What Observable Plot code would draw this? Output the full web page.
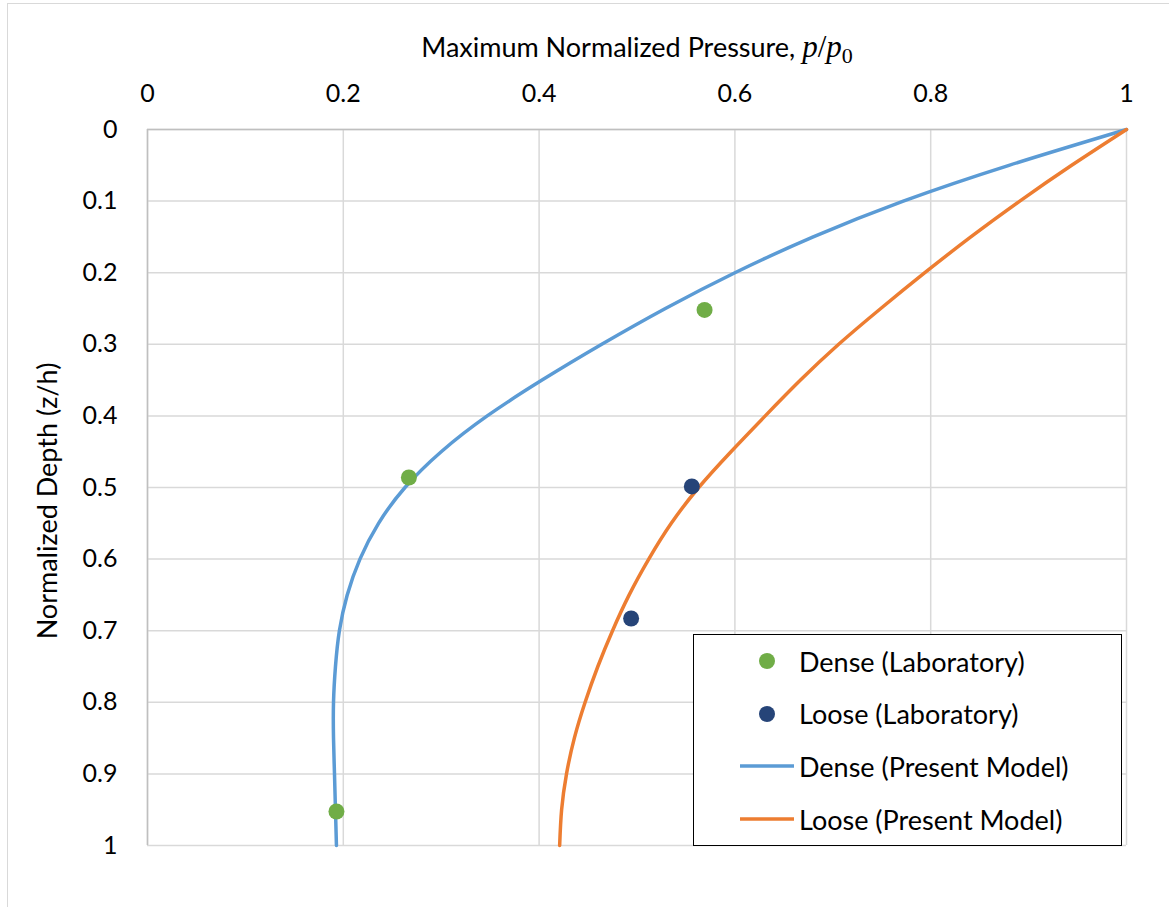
<!DOCTYPE html>
<html>
<head>
<meta charset="utf-8">
<script src="https://cdn.jsdelivr.net/npm/d3@7"></script>
<script src="https://cdn.jsdelivr.net/npm/@observablehq/plot@0.6"></script>
<style>
  html, body { margin: 0; padding: 0; background: #fff; }
  #wrap { position: relative; width: 1169px; height: 907px; overflow: hidden; font-family: Lato, "Open Sans", sans-serif; }
  #frame { position: absolute; left: 7px; top: 3px; width: 1300px; height: 1000px; border-left: 1px solid #d9d9d9; border-top: 1px solid #d9d9d9; }
  #legend { position: absolute; left: 693px; top: 634px; width: 429px; height: 212px; box-sizing: border-box; border: 1.5px solid #000; background: #fff; }
  .row { position: absolute; left: 46px; height: 40px; display: flex; align-items: center; font-size: 27px; color: #000; white-space: nowrap; }
  .row svg { flex: none; }
  .row span { margin-left: 5px; }
</style>
</head>
<body>
<div id="wrap">
  <div id="frame"></div>
  <div id="chart"></div>
  <div id="legend"></div>
</div>
<script>
// ---- data ----
const depth       = [0, 0.05, 0.1, 0.15, 0.2, 0.25, 0.3, 0.35, 0.4, 0.45, 0.5, 0.55, 0.6, 0.65, 0.7, 0.75, 0.8, 0.85, 0.9, 0.95, 1.0];
const denseModel  = [1.000, 0.880, 0.772, 0.680, 0.600, 0.529, 0.464, 0.403, 0.347, 0.300, 0.263, 0.236, 0.217, 0.204, 0.196, 0.192, 0.190, 0.190, 0.191, 0.192, 0.193];
const looseModel  = [1.000, 0.944, 0.891, 0.841, 0.794, 0.749, 0.706, 0.667, 0.631, 0.596, 0.563, 0.535, 0.512, 0.492, 0.475, 0.460, 0.447, 0.436, 0.428, 0.423, 0.421];
const denseLabP   = [0.569, 0.267, 0.193];
const denseLabZ   = [0.252, 0.486, 0.9525];
const looseLabP   = [0.556, 0.494];
const looseLabZ   = [0.4985, 0.683];
const xTicks      = [0, 0.2, 0.4, 0.6, 0.8, 1];
const xTickLabels = ["0", "0.2", "0.4", "0.6", "0.8", "1"];
const yTicks      = [0, 0.1, 0.2, 0.3, 0.4, 0.5, 0.6, 0.7, 0.8, 0.9, 1];
const yTickLabels = ["0", "0.1", "0.2", "0.3", "0.4", "0.5", "0.6", "0.7", "0.8", "0.9", "1"];
const seriesNames = ["Dense (Laboratory)", "Loose (Laboratory)", "Dense (Present Model)", "Loose (Present Model)"];
const colors      = { dense: "#5B9BD5", loose: "#ED7D31", denseLab: "#70AD47", looseLab: "#264478" };

// ---- tables ----
const denseLine = depth.map((z, i) => ({ z, p: denseModel[i] }));
const looseLine = depth.map((z, i) => ({ z, p: looseModel[i] }));
const denseDots = denseLabP.map((p, i) => ({ p, z: denseLabZ[i] }));
const looseDots = looseLabP.map((p, i) => ({ p, z: looseLabZ[i] }));

const chart = Plot.plot({
  width: 1169,
  height: 907,
  marginLeft: 147,
  marginRight: 43,
  marginTop: 129,
  marginBottom: 62,
  style: { fontFamily: "Lato, 'Open Sans', sans-serif", fontSize: "25px", color: "#000", background: "transparent", overflow: "visible" },
  x: { domain: [0, 1] },
  y: { domain: [0, 1], reverse: true },
  marks: [
    Plot.gridX(xTicks, { stroke: "#d9d9d9", strokeOpacity: 1, strokeWidth: 1.5 }),
    Plot.gridY(yTicks, { stroke: "#d9d9d9", strokeOpacity: 1, strokeWidth: 1.5 }),
    Plot.ruleY([0], { stroke: "#bfbfbf", strokeWidth: 1.5 }),
    Plot.ruleX([0], { stroke: "#bfbfbf", strokeWidth: 1.5 }),
    Plot.axisX(xTicks, { anchor: "top", tickSize: 0, tickPadding: 28, tickFormat: (d) => xTickLabels[xTicks.indexOf(d)], label: null, fill: "#000" }),
    Plot.axisY(yTicks, { anchor: "left", tickSize: 0, tickPadding: 30, tickFormat: (d) => yTickLabels[yTicks.indexOf(d)], label: null, fill: "#000" }),
    Plot.line(denseLine, { x: "p", y: "z", stroke: colors.dense, strokeWidth: 3.5, curve: "natural" }),
    Plot.line(looseLine, { x: "p", y: "z", stroke: colors.loose, strokeWidth: 3.5, curve: "natural" }),
    Plot.dot(denseDots, { x: "p", y: "z", r: 8, fill: colors.denseLab, stroke: "none" }),
    Plot.dot(looseDots, { x: "p", y: "z", r: 8, fill: colors.looseLab, stroke: "none" })
  ]
});
document.getElementById("chart").appendChild(chart);

// ---- axis titles ----
const svg = d3.select(chart);
const xt = svg.append("text")
  .attr("x", 637).attr("y", 57)
  .attr("text-anchor", "middle")
  .attr("font-family", "Lato, 'Open Sans', sans-serif")
  .attr("font-size", 27)
  .attr("fill", "#000");
xt.append("tspan").text("Maximum Normalized Pressure, ");
xt.append("tspan").attr("font-family", "'Liberation Serif', serif").attr("font-style", "italic").attr("font-size", 31).text("p");
xt.append("tspan").attr("font-family", "'Liberation Serif', serif").attr("font-size", 31).text("/");
xt.append("tspan").attr("font-family", "'Liberation Serif', serif").attr("font-style", "italic").attr("font-size", 31).text("p");
xt.append("tspan").attr("font-family", "'Liberation Serif', serif").attr("font-size", 22).attr("dy", 6).text("0");

svg.append("text")
  .attr("transform", "translate(57,501) rotate(-90)")
  .attr("text-anchor", "middle")
  .attr("font-family", "Lato, 'Open Sans', sans-serif")
  .attr("font-size", 27)
  .attr("fill", "#000")
  .text("Normalized Depth (z/h)");

// ---- legend ----
const legend = d3.select("#legend");
const kinds = ["dot", "dot", "line", "line"];
const legColors = [colors.denseLab, colors.looseLab, colors.dense, colors.loose];
seriesNames.forEach((name, i) => {
  const row = legend.append("div").attr("class", "row").style("top", (6 + i * 52.7) + "px");
  const s = row.append("svg").attr("width", 54).attr("height", 20);
  if (kinds[i] === "dot") s.append("circle").attr("cx", 27).attr("cy", 10).attr("r", 8).attr("fill", legColors[i]);
  else s.append("line").attr("x1", 0).attr("x2", 54).attr("y1", 10).attr("y2", 10).attr("stroke", legColors[i]).attr("stroke-width", 3.5);
  row.append("span").text(name);
});
</script>
</body>
</html>
